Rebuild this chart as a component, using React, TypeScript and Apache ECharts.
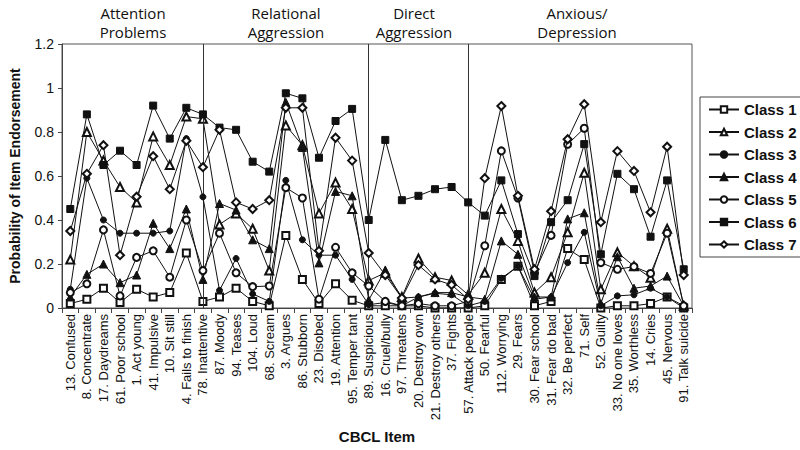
import React, { useEffect, useRef } from "react";
import * as echarts from "echarts";

const categories = [
  "13. Confused", "8. Concentrate", "17. Daydreams", "61. Poor school", "1. Act young",
  "41. Impulsive", "10. Sit still", "4. Fails to finish", "78. Inattentive", "87. Moody",
  "94. Teases", "104. Loud", "68. Scream", "3. Argues", "86. Stubborn", "23. Disobed",
  "19. Attention", "95. Temper tant", "89. Suspicious", "16. Cruel/bully", "97. Threatens",
  "20. Destroy own", "21. Destroy others", "37. Fights", "57. Attack people", "50. Fearful",
  "112. Worrying", "29. Fears", "30. Fear school", "31. Fear do bad", "32. Be perfect",
  "71. Self", "52. Guilty", "33. No one loves", "35. Worthless", "14. Cries", "45. Nervous",
  "91. Talk suicide",
];

const class1 = [0.02, 0.04, 0.09, 0.025, 0.085, 0.05, 0.07, 0.25, 0.03, 0.05, 0.09, 0.03, 0.01, 0.33, 0.13, 0.02, 0.11, 0.035, 0.01, 0.01, 0.01, 0.01, 0.0, 0.0, 0.0, 0.01, 0.13, 0.19, 0.01, 0.03, 0.27, 0.22, 0.0, 0.01, 0.01, 0.02, 0.05, 0.0];
const class2 = [0.22, 0.8, 0.67, 0.55, 0.48, 0.78, 0.65, 0.87, 0.86, 0.38, 0.43, 0.36, 0.17, 0.83, 0.74, 0.43, 0.57, 0.45, 0.125, 0.16, 0.05, 0.225, 0.14, 0.125, 0.06, 0.16, 0.45, 0.305, 0.07, 0.14, 0.344, 0.615, 0.085, 0.253, 0.19, 0.138, 0.36, 0.01];
const class3 = [0.085, 0.59, 0.4, 0.34, 0.34, 0.34, 0.35, 0.77, 0.505, 0.08, 0.225, 0.064, 0.03, 0.58, 0.31, 0.24, 0.24, 0.13, 0.015, 0.025, 0.01, 0.05, 0.067, 0.06, 0.01, 0.03, 0.135, 0.19, 0.04, 0.05, 0.206, 0.344, 0.01, 0.055, 0.06, 0.09, 0.05, 0.01];
const class4 = [0.05, 0.153, 0.2, 0.115, 0.15, 0.385, 0.27, 0.45, 0.13, 0.475, 0.445, 0.31, 0.27, 0.935, 0.73, 0.205, 0.53, 0.51, 0.036, 0.173, 0.045, 0.05, 0.07, 0.07, 0.05, 0.04, 0.305, 0.244, 0.05, 0.05, 0.405, 0.433, 0.02, 0.233, 0.09, 0.1, 0.145, 0.01];
const class5 = [0.07, 0.11, 0.355, 0.055, 0.23, 0.26, 0.14, 0.4, 0.17, 0.34, 0.16, 0.097, 0.1, 0.547, 0.5, 0.04, 0.276, 0.16, 0.1, 0.03, 0.01, 0.02, 0.01, 0.01, 0.03, 0.283, 0.714, 0.5, 0.16, 0.33, 0.744, 0.817, 0.206, 0.176, 0.188, 0.157, 0.34, 0.01];
const class6 = [0.45, 0.88, 0.65, 0.715, 0.65, 0.92, 0.77, 0.91, 0.88, 0.82, 0.81, 0.665, 0.62, 0.976, 0.953, 0.683, 0.85, 0.905, 0.4, 0.764, 0.49, 0.51, 0.54, 0.55, 0.48, 0.42, 0.58, 0.336, 0.145, 0.39, 0.49, 0.745, 0.244, 0.61, 0.54, 0.324, 0.58, 0.176];
const class7 = [0.35, 0.61, 0.74, 0.24, 0.506, 0.69, 0.54, 0.76, 0.64, 0.81, 0.48, 0.45, 0.49, 0.91, 0.91, 0.26, 0.774, 0.67, 0.25, 0.15, 0.045, 0.195, 0.13, 0.105, 0.04, 0.59, 0.918, 0.51, 0.176, 0.44, 0.767, 0.926, 0.39, 0.713, 0.623, 0.435, 0.733, 0.15];

const seriesNames = ["Class 1", "Class 2", "Class 3", "Class 4", "Class 5", "Class 6", "Class 7"];
const seriesData = [class1, class2, class3, class4, class5, class6, class7];
const symbols = ["emptyRect", "emptyTriangle", "circle", "triangle", "emptyCircle", "rect", "emptyDiamond"];
const symbolSizes = [7, 8, 6, 8, 7, 7, 8];

const dividers = ["78. Inattentive", "89. Suspicious", "57. Attack people"];
const groupHeaders = [
  { text: "Attention\nProblems", x: 133 },
  { text: "Relational\nAggression", x: 286 },
  { text: "Direct\nAggression", x: 414 },
  { text: "Anxious/\nDepression", x: 577 },
];

export default function App() {
  const ref = useRef<HTMLDivElement>(null);
  useEffect(() => {
    if (!ref.current) return;
    const chart = echarts.init(ref.current, undefined, { renderer: "svg" });
    const series: any[] = seriesNames.map((name, i) => ({
      name,
      type: "line",
      data: seriesData[i],
      symbol: symbols[i],
      symbolSize: symbolSizes[i],
      showAllSymbol: true,
      lineStyle: { color: "#111", width: 1 },
      itemStyle: { color: "#111", borderColor: "#111", borderWidth: 1 },
      z: 3 + i,
      ...(i === 0
        ? {
            markLine: {
              silent: true,
              symbol: "none",
              label: { show: false },
              lineStyle: { color: "#333", width: 1, type: "solid" },
              data: dividers.map((d) => ({ xAxis: d })),
            },
          }
        : {}),
    }));
    chart.setOption({
      animation: false,
      backgroundColor: "#fff",
      textStyle: { fontFamily: "Liberation Sans, Arial, sans-serif" },
      grid: {
        left: 62,
        right: 108,
        top: 44,
        bottom: 142,
        show: true,
        borderColor: "#555",
        borderWidth: 1,
      },
      legend: {
        orient: "vertical",
        left: 700,
        top: 97,
        itemGap: 7.5,
        itemWidth: 30,
        itemHeight: 8,
        padding: [5, 10, 5, 8],
        borderColor: "#444",
        borderWidth: 1,
        textStyle: { fontSize: 15, fontWeight: "bold", color: "#111", fontFamily: "Liberation Sans, Arial, sans-serif" },
        data: seriesNames,
      },
      graphic: groupHeaders.map((h) => ({
        type: "text",
        x: h.x,
        y: 3,
        style: {
          text: h.text,
          textAlign: "center",
          fontSize: 15,
          lineHeight: 19,
          fill: "#111",
          fontFamily: "Open Sans, Liberation Sans, sans-serif",
        },
      })),
      xAxis: {
        type: "category",
        data: categories,
        boundaryGap: true,
        name: "CBCL Item",
        nameLocation: "middle",
        nameGap: 121,
        nameTextStyle: { fontSize: 15, fontWeight: "bold", color: "#111" },
        axisLine: { lineStyle: { color: "#444" } },
        axisTick: { show: true, length: 5, interval: 0, lineStyle: { color: "#444" } },
        axisLabel: { interval: 0, rotate: 90, fontSize: 13, color: "#111", margin: 6 },
        splitLine: { show: false },
      },
      yAxis: {
        type: "value",
        min: 0,
        max: 1.2,
        interval: 0.2,
        name: "Probability of Item Endorsement",
        nameLocation: "middle",
        nameGap: 40,
        nameTextStyle: { fontSize: 14, fontWeight: "bold", color: "#111" },
        axisLine: { show: true, lineStyle: { color: "#444" } },
        axisTick: { show: true, length: 4, lineStyle: { color: "#444" } },
        axisLabel: {
          fontSize: 14,
          color: "#111",
          formatter: (v: number) => String(Math.round(v * 10) / 10),
        },
        splitLine: { show: false },
      },
      series,
    });
    return () => chart.dispose();
  }, []);
  return <div ref={ref} style={{ width: 800, height: 450, position: "absolute", left: 0, top: 0 }} />;
}
